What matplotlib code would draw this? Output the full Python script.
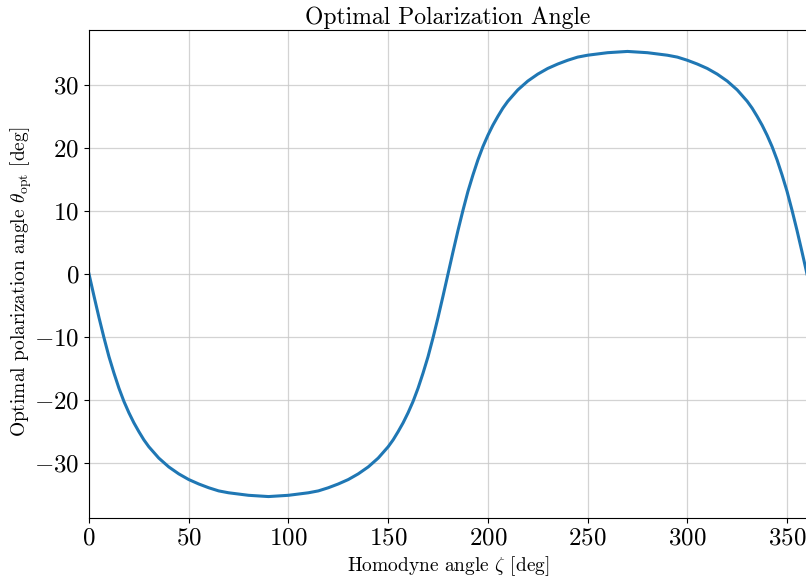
import matplotlib
matplotlib.use("Agg")
import matplotlib.pyplot as plt

plt.rcParams['font.family'] = 'serif'
plt.rcParams['font.serif'] = ['cmr10']
plt.rcParams['mathtext.fontset'] = 'cm'
plt.rcParams['axes.formatter.use_mathtext'] = True

# homodyne angle (deg); denser sampling where the curve is steep
zeta = [
    0, 2.5, 5, 7.5, 10, 12.5, 15, 17.5, 20, 22.5, 25, 27.5, 30,
    35, 40, 45, 50, 55, 60, 65, 70, 75, 80, 85, 90,
    95, 100, 105, 110, 115, 120, 125, 130, 135, 140, 145,
    150, 152.5, 155, 157.5, 160, 162.5, 165, 167.5, 170, 172.5, 175, 177.5, 180,
    182.5, 185, 187.5, 190, 192.5, 195, 197.5, 200, 202.5, 205, 207.5, 210,
    215, 220, 225, 230, 235, 240, 245, 250, 255, 260, 265, 270,
    275, 280, 285, 290, 295, 300, 305, 310, 315, 320, 325,
    330, 332.5, 335, 337.5, 340, 342.5, 345, 347.5, 350, 352.5, 355, 357.5, 360,
]

# optimal polarization angle (deg)
theta_opt = [
    0.0, -3.5, -6.9, -10.1, -13.1, -15.7, -18.1, -20.2, -22.0, -23.6, -25.0, -26.3, -27.4,
    -29.2, -30.6, -31.7, -32.6, -33.3, -33.9, -34.4, -34.7, -34.9, -35.1, -35.2, -35.3,
    -35.2, -35.1, -34.9, -34.7, -34.4, -33.9, -33.3, -32.6, -31.7, -30.6, -29.2,
    -27.4, -26.3, -25.0, -23.6, -22.0, -20.2, -18.1, -15.7, -13.1, -10.1, -6.9, -3.5, 0.0,
    3.5, 6.9, 10.1, 13.1, 15.7, 18.1, 20.2, 22.0, 23.6, 25.0, 26.3, 27.4,
    29.2, 30.6, 31.7, 32.6, 33.3, 33.9, 34.4, 34.7, 34.9, 35.1, 35.2, 35.3,
    35.2, 35.1, 34.9, 34.7, 34.4, 33.9, 33.3, 32.6, 31.7, 30.6, 29.2,
    27.4, 26.3, 25.0, 23.6, 22.0, 20.2, 18.1, 15.7, 13.1, 10.1, 6.9, 3.5, 0.0,
]

fig = plt.figure(figsize=(8.06, 5.78), dpi=100)
ax = fig.add_axes([89 / 806, 1 - 518 / 578, 718 / 806, 488 / 578])

ax.plot(zeta, theta_opt, color="#1f77b4", linewidth=2.2)

ax.set_xlim(0, 360)
ax.set_ylim(-38.7, 38.7)
ax.grid(True, color="#c8c8c8", linewidth=0.9, alpha=0.8)

ax.set_title("Optimal Polarization Angle", fontsize=17, pad=4)
ax.set_xlabel(r"Homodyne angle $\zeta$ [deg]", fontsize=14, labelpad=3)
ax.set_ylabel(r"Optimal polarization angle $\theta_{\rm opt}$ [deg]", fontsize=14)
ax.yaxis.set_label_coords(-0.076, 0.483)
ax.tick_params(labelsize=18)

fig.savefig("out.png", dpi=100)
